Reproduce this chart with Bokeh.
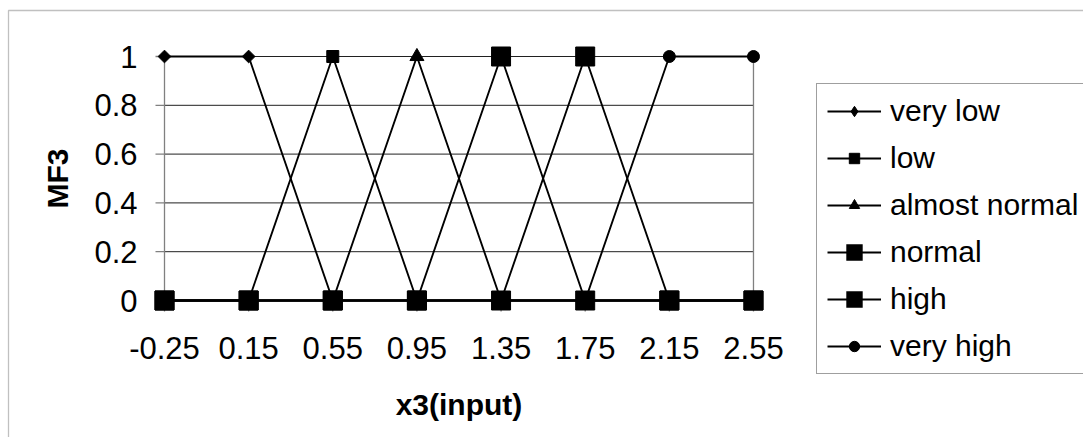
from bokeh.plotting import figure
from bokeh.models import Legend, LegendItem, BoxAnnotation, Range1d
from bokeh.core.properties import value
from bokeh.embed import file_html
from bokeh.resources import INLINE
import math

categories = ["-0.25", "0.15", "0.55", "0.95", "1.35", "1.75", "2.15", "2.55"]
very_low = [1, 1, 0, 0, 0, 0, 0, 0]
low = [0, 0, 1, 0, 0, 0, 0, 0]
almost_normal = [0, 0, 0, 1, 0, 0, 0, 0]
normal = [0, 0, 0, 0, 1, 0, 0, 0]
high = [0, 0, 0, 0, 0, 1, 0, 0]
very_high = [0, 0, 0, 0, 0, 0, 1, 1]
series_names = ["very low", "low", "almost normal", "normal", "high", "very high"]
y_ticks = [0, 0.2, 0.4, 0.6, 0.8, 1]
y_tick_labels = ["0", "0.2", "0.4", "0.6", "0.8", "1"]
x_title = "x3(input)"
y_title = "MF3"

xs = list(range(len(categories)))
FONT = value("Liberation Sans")
W, H = 1083, 437

# Excel-like plot area: category 0 at px 164, spacing 84.14 px; value 0 at px 300, 1 at px 56
X0, DX = 164.0, 84.14
Y0, DY = 300.0, 244.0
x_rng = Range1d(-X0 / DX, (W - X0) / DX)
y_rng = Range1d((Y0 - H) / DY, Y0 / DY)

p = figure(width=W, height=H, output_backend="svg", toolbar_location=None,
           x_range=x_rng, y_range=y_rng, x_axis_type=None, y_axis_type=None,
           min_border=0)
p.outline_line_color = None
p.xgrid.visible = False
p.ygrid.visible = False
p.background_fill_color = "white"
p.border_fill_color = "white"

n = len(xs)
gy = y_ticks[1:]
# gridlines
p.segment(x0=[xs[0]] * len(gy), x1=[xs[-1]] * len(gy), y0=gy, y1=gy, line_color="#202020", line_width=1)
# left axis line and right plot-area border
p.segment(x0=[xs[0], xs[-1]], x1=[xs[0], xs[-1]], y0=[y_ticks[0]] * 2, y1=[y_ticks[-1]] * 2,
          line_color="#808080", line_width=1.3)
# y tick marks
tick_y = 9.0 / DX
p.segment(x0=[xs[0] - tick_y] * len(y_ticks), x1=[xs[0]] * len(y_ticks), y0=y_ticks, y1=y_ticks,
          line_color="#808080", line_width=1.3)
# x tick marks
tick_x = 11.0 / DY
p.segment(x0=xs, x1=xs, y0=[y_ticks[0]] * n, y1=[y_ticks[0] - tick_x] * n, line_color="#808080", line_width=1.3)

# tick labels
p.text(x=xs, y=[-47.0 / DY] * n, text=categories, text_font=FONT, text_font_size="31px",
       text_align="center", text_baseline="middle", text_color="black")
p.text(x=[xs[0] - 27.0 / DX] * len(y_ticks), y=y_ticks, text=y_tick_labels, text_font=FONT,
       text_font_size="31px", text_align="right", text_baseline="middle", text_color="black")
# axis titles
p.text(x=[(xs[0] + xs[-1]) / 2], y=[-104.0 / DY], text=[x_title], text_font=FONT, text_font_size="30px",
       text_font_style="bold", text_align="center", text_baseline="middle", text_color="black")
p.text(x=[xs[0] - 107.0 / DX], y=[(y_ticks[0] + y_ticks[-1]) / 2], text=[y_title], text_font=FONT,
       text_font_size="30px", text_font_style="bold", text_align="center", text_baseline="middle",
       angle=math.pi / 2, text_color="black")

data = [very_low, low, almost_normal, normal, high, very_high]
# (chart marker, size, angle, legend marker, legend outline width)
markers = [("square", 9, math.pi / 4, "diamond", 1), ("square", 12, 0, "square", 1),
           ("triangle", 14, 0, "triangle", 1), ("square", 19, 0, "square", 6),
           ("square", 19, 0, "square", 6), ("circle", 12, 0, "circle", 1)]

line_rs = [p.line(xs, vals, line_color="black", line_width=1.9) for vals in data]
marker_rs = []
swatch_rs = []
for vals, (m, s, a, lm, lw) in zip(data, markers):
    marker_rs.append(p.scatter(xs, vals, marker=m, size=s, angle=a, fill_color="black", line_color="black"))
for vals, (m, s, a, lm, lw), mr in zip(data, markers, marker_rs):
    # zero-size twin of the series markers: invisible on the chart, gives the key its Excel shape
    swatch_rs.append(p.scatter(xs, vals, marker=lm, size=0, fill_color="black", line_color="black",
                               line_width=lw, line_join="miter"))

items = [LegendItem(label=name, renderers=[lr, sw]) for name, lr, sw in zip(series_names, line_rs, swatch_rs)]

legend = Legend(items=items, location=(816, 63), margin=0, padding=10,
                label_text_font="Liberation Sans", label_text_font_size="30px", label_text_color="black",
                glyph_width=54, glyph_height=26, label_height=34, label_width=230, spacing=13,
                label_standoff=9, border_line_color="#404040", border_line_width=1.3,
                background_fill_color="white", background_fill_alpha=1)
p.add_layout(legend, "center")

outer = BoxAnnotation(left=8, right=W + 50, top=10, bottom=H + 50,
                      left_units="canvas", right_units="canvas", top_units="canvas", bottom_units="canvas",
                      fill_alpha=0, line_color="#303030", line_width=1.3, level="underlay")
p.add_layout(outer)

open("out.html", "w").write(file_html(p, INLINE))
